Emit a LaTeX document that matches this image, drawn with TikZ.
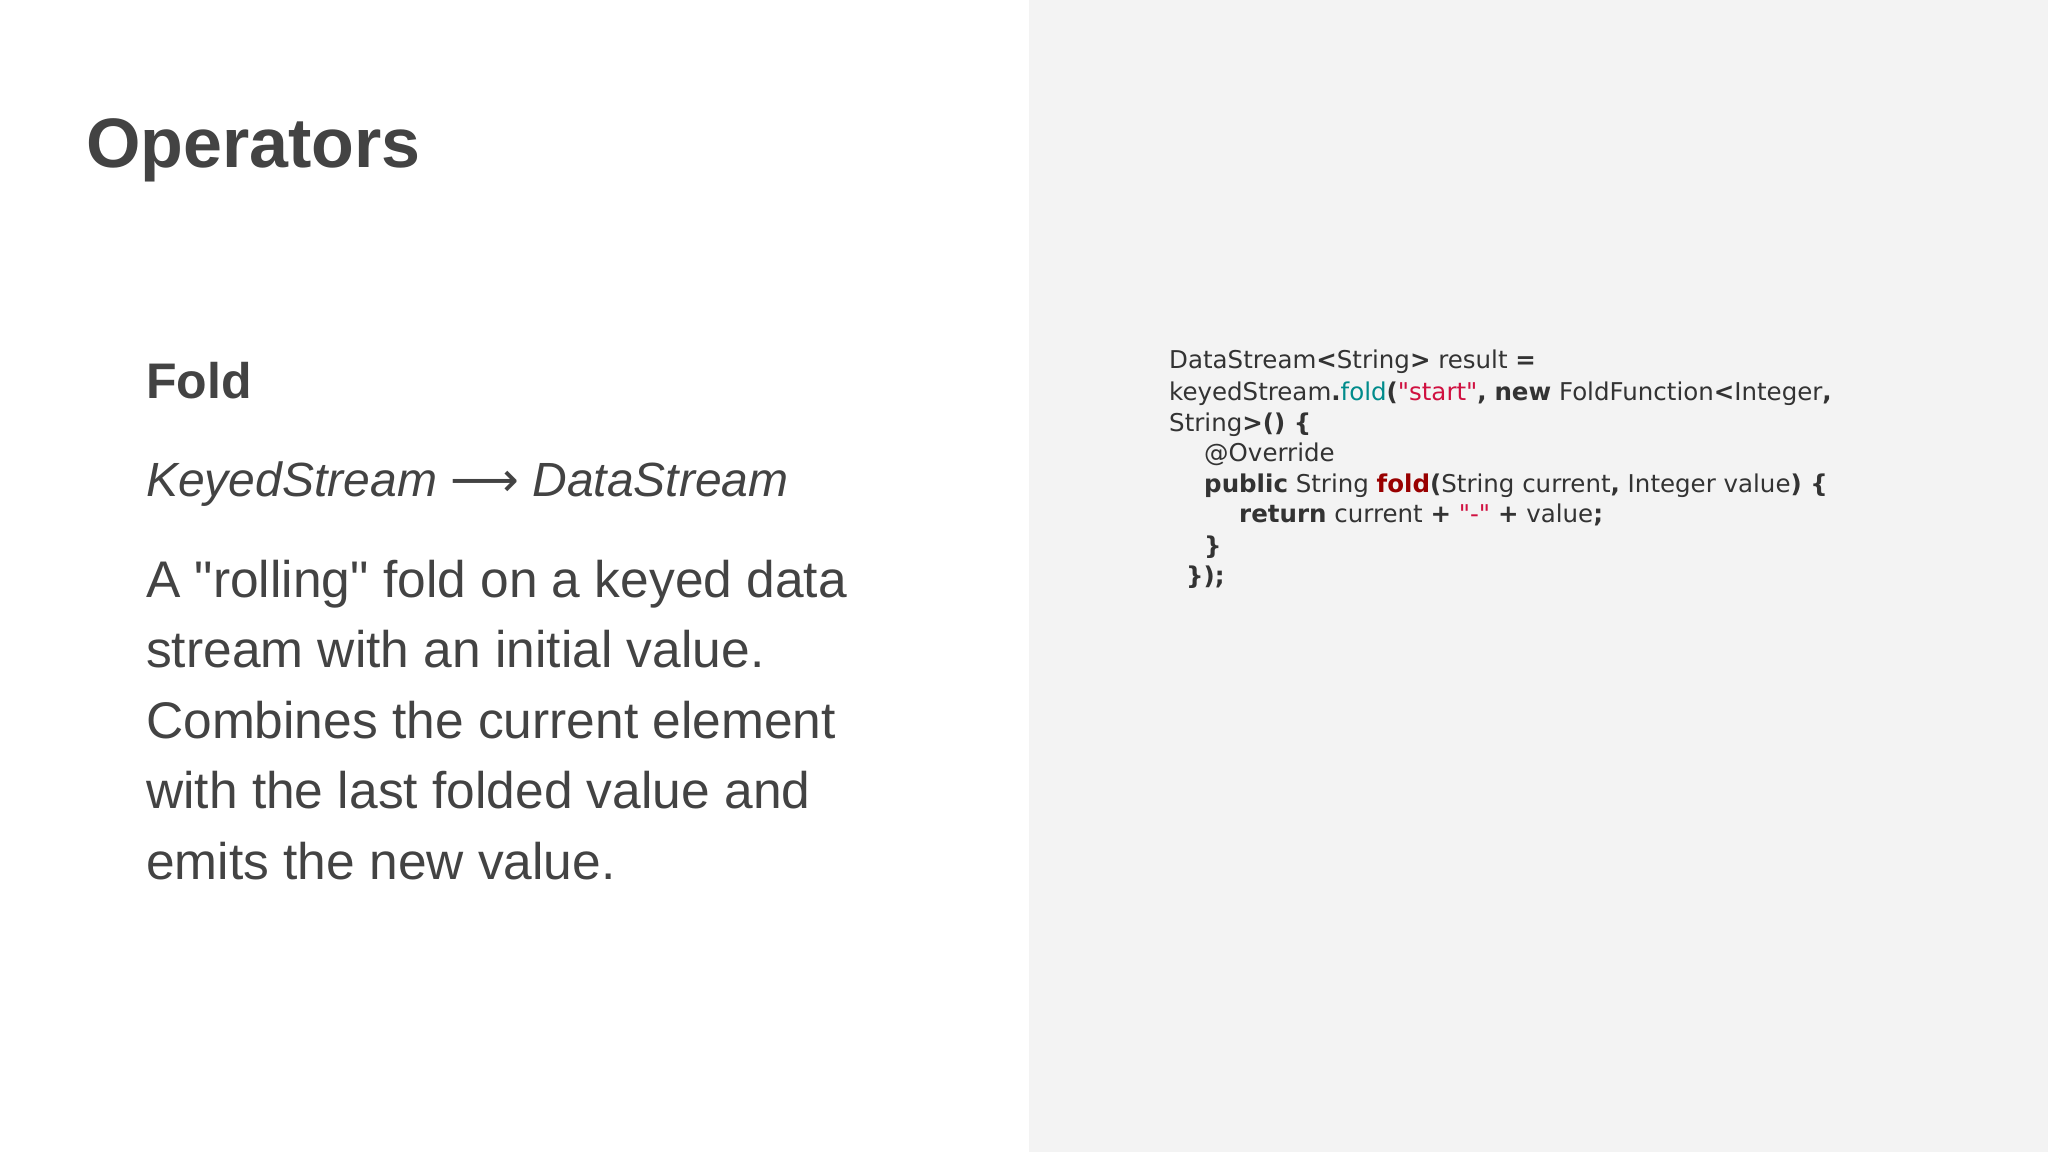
\documentclass[tikz,border=0pt]{standalone}
\usepackage{fontspec}
\newfontfamily\bodyfont{Liberation Sans}
\newfontfamily\codefont{DejaVu Sans}
\newfontfamily\arrowfont{DejaVu Sans}
\begin{document}
\begin{tikzpicture}[x=1pt,y=-1pt,
  txt/.style={anchor=base west,inner sep=0pt,text=textgrey},
  code/.style={anchor=base west,inner sep=0pt,text=codegrey,font=\codefont\fontsize{24.5}{28}\selectfont}]
\definecolor{textgrey}{HTML}{434343}
\definecolor{codegrey}{HTML}{333333}
\definecolor{panel}{HTML}{F3F3F3}
\definecolor{teal}{HTML}{008B8B}
\definecolor{crim}{HTML}{D01040}
\definecolor{dred}{HTML}{990000}
\useasboundingbox (0,0) rectangle (2048,1152);
\fill[white] (0,0) rectangle (1029,1152);
\fill[panel] (1029,0) rectangle (2048,1152);
\node[txt,font=\bodyfont\bfseries\fontsize{70}{80}\selectfont] (title) at (86,167) {Operators};
\node[txt,font=\bodyfont\bfseries\fontsize{50}{64}\selectfont] (fold) at (146,398) {Fold};
\node[txt,font=\bodyfont\itshape\fontsize{48}{60}\selectfont] (sig) at (146,496) {KeyedStream {\arrowfont\char"27F6} DataStream};
\foreach \t [count=\i] in {A "rolling" fold on a keyed data,stream with an initial value.,Combines the current element,with the last folded value and,emits the new value.}
  \node[txt,font=\bodyfont\fontsize{51.5}{60}\selectfont] (p\i) at (146,{597+70.5*(\i-1)}) {\t};
\node[code] (c1) at (1169,368) {DataStream\textbf{<}String\textbf{>} result \textbf{=}};
\node[code] (c2) at (1169,400) {keyedStream\textbf{.}\textcolor{teal}{fold}\textbf{(}\textcolor{crim}{"start"}\textbf{,} \textbf{new} FoldFunction\textbf{<}Integer\textbf{,}};
\node[code] (c3) at (1169,431) {String\textbf{>() \{}};
\node[code] (c4) at (1204,461) {@Override};
\node[code] (c5) at (1204,492) {\textbf{public} String \textcolor{dred}{\textbf{fold}}\textbf{(}String current\textbf{,} Integer value\textbf{) \{}};
\node[code] (c6) at (1239,522) {\textbf{return} current \textbf{+} \textcolor{crim}{"-"} \textbf{+} value\textbf{;}};
\node[code] (c7) at (1204,554) {\textbf{\}}};
\node[code] (c8) at (1186,584) {\textbf{\});}};
\end{tikzpicture}
\end{document}
